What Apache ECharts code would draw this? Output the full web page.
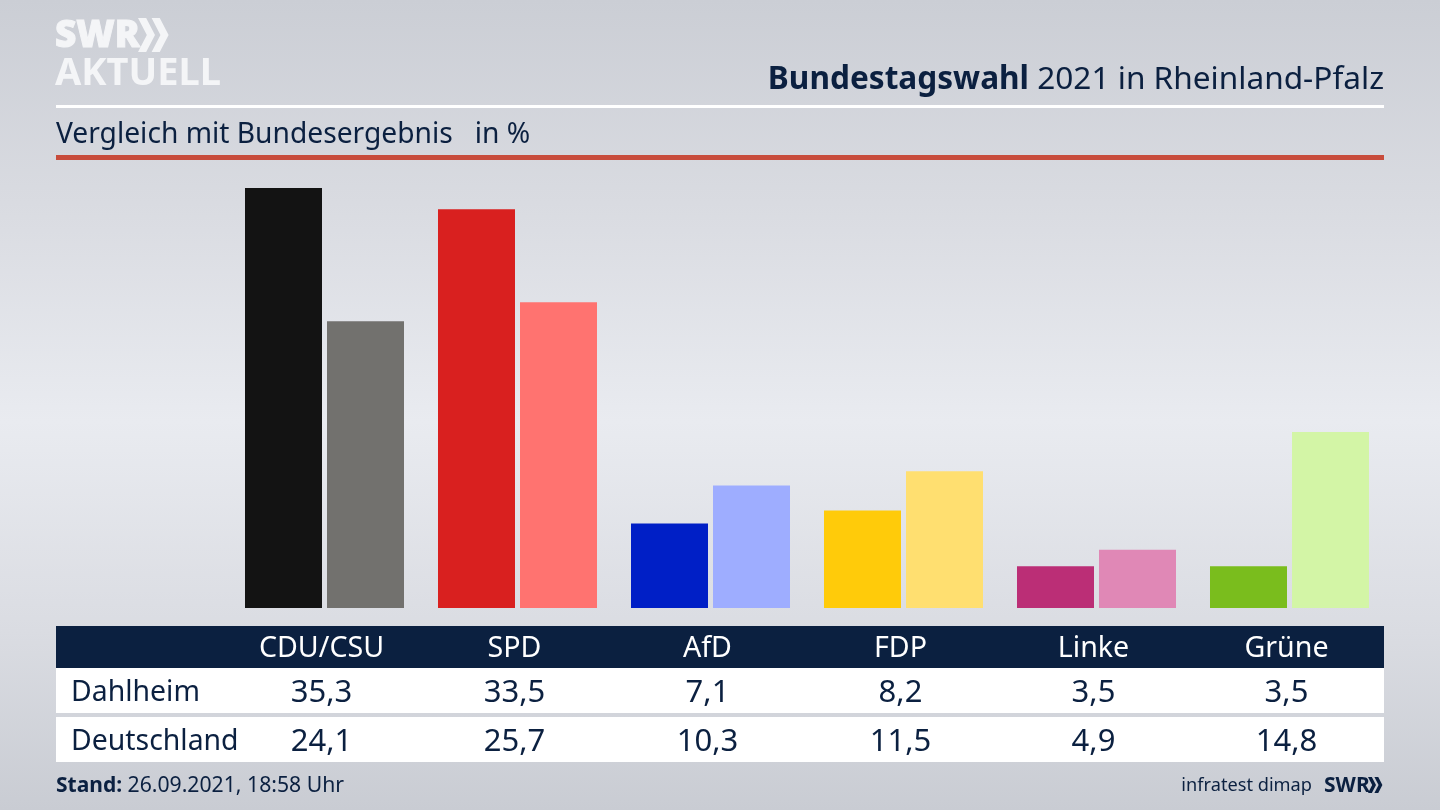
<!DOCTYPE html>
<html><head><meta charset="utf-8">
<style>html,body{margin:0;padding:0;background:#d5d8de}#c{width:1440px;height:810px}</style>
<script src="https://cdn.jsdelivr.net/npm/echarts@6/dist/echarts.min.js"></script>
</head><body><div id="c"></div>
<script>
const parties = ['CDU/CSU','SPD','AfD','FDP','Linke','Grüne'];
const dahlheim = [35.3,33.5,7.1,8.2,3.5,3.5];
const deutschland = [24.1,25.7,10.3,11.5,4.9,14.8];
const dahlheimColors = ['#131313','#d9201f','#001fc6','#ffcb0a','#bb2e76','#7abd1d'];
const deutschlandColors = ['#72716e','#ff7370','#9eadff','#ffdf70','#e088b6','#d3f5a6'];
const rowNames = ['Dahlheim','Deutschland'];
const titleBold = 'Bundestagswahl';
const titleRest = ' 2021 in Rheinland-Pfalz';
const subtitle = 'Vergleich mit Bundesergebnis   in %';
const standLabel = 'Stand:';
const standText = ' 26.09.2021, 18:58 Uhr';
const source = 'infratest dimap';

const NAVY = '#0b2040';
const FONT = '"Noto Sans","Open Sans",sans-serif';
const fmt = v => v.toFixed(1).replace('.', ',');

const tableAxis = (data, margin, color, size) => ({
  type: 'category', data, position: 'bottom', gridIndex: 0,
  axisLine: {show:false}, axisTick: {show:false}, splitLine: {show:false},
  axisLabel: {interval:0, margin, color, fontFamily:FONT, fontSize:size, verticalAlign:'middle', hideOverlap:false, padding:[0,6,0,0]}
});
const rect = (x,y,w,h,fill) => ({type:'rect', z:-5, silent:true, shape:{x,y,width:w,height:h}, style:{fill}});
const text = (x,y,t,o) => ({type:'text', z:5, silent:true, x, y, style:Object.assign({text:t, fill:NAVY, font:'28.4px '+FONT, textVerticalAlign:'middle'}, o||{})});
const chevrons = (x,y,h,fill) => [0,1].map(i => {
  const x0 = x + i*h*0.4, w = h*0.5, t = h*0.24;
  return {type:'polygon', z:5, silent:true,
    shape:{points:[[x0,y],[x0+t,y],[x0+w,y+h/2],[x0+t,y+h],[x0,y+h],[x0+w-t,y+h/2]]},
    style:{fill}};
});

const chart = echarts.init(document.getElementById('c'), null, {renderer:'canvas', width:1440, height:810});
chart.setOption({
  animation:false,
  backgroundColor:{type:'linear',x:0,y:0,x2:0,y2:1,colorStops:[
    {offset:0,color:'#cbced5'},{offset:0.25,color:'#d9dbe1'},{offset:0.52,color:'#e9ebf0'},
    {offset:0.78,color:'#dadce2'},{offset:1,color:'#c9ccd3'}]},
  title:[
    {text:'{b|'+titleBold+'}{r|'+titleRest+'}', right:56, top:64, padding:0,
     textStyle:{rich:{b:{fontFamily:FONT,fontSize:31.6,fontWeight:'bold',color:NAVY},r:{fontFamily:FONT,fontSize:31.6,fontWeight:'normal',color:NAVY}}}},
    {text:subtitle, left:56, top:121, padding:0, textStyle:{fontFamily:FONT,fontSize:28.2,fontWeight:'normal',color:NAVY}}
  ],
  grid:{left:228,width:1158,top:132,height:476,containLabel:false},
  xAxis:[
    tableAxis(parties,41,'#ffffff',28.6),
    tableAxis(dahlheim.map(fmt),85,NAVY,31),
    tableAxis(deutschland.map(fmt),134,NAVY,31)
  ],
  yAxis:{type:'value',min:0,max:40,show:false},
  series:[
    {name:rowNames[0],type:'bar',xAxisIndex:0,barWidth:77,barGap:'6.5%',
     data:dahlheim.map((v,i)=>({value:v,itemStyle:{color:dahlheimColors[i]}}))},
    {name:rowNames[1],type:'bar',xAxisIndex:0,barWidth:77,barGap:'6.5%',
     data:deutschland.map((v,i)=>({value:v,itemStyle:{color:deutschlandColors[i]}}))}
  ],
  graphic:[
    rect(56,105,1328,3,'#ffffff'),
    rect(56,155,1328,5,'#c84c3c'),
    rect(56,626,1328,42,NAVY),
    rect(56,668,1328,45,'#ffffff'),
    rect(56,717,1328,45,'#ffffff'),
    text(71,693,rowNames[0]),
    text(71,742,rowNames[1]),
    text(56,786,standLabel,{font:'bold 21px '+FONT}),
    text(122,786,standText,{font:'21.2px '+FONT}),
    text(1312,786,source,{font:'18.2px '+FONT,textAlign:'right'}),
    text(1324,786,'SWR',{font:'bold 21px '+FONT}),
    ...chevrons(1368,777,16,NAVY),
    text(55,36,'SWR',{font:'900 37px '+FONT,fill:'#f4f5f7',stroke:'#f4f5f7',lineWidth:1}),
    text(55,74,'AKTUELL',{font:'bold 38px '+FONT,fill:'#f4f5f7'}),
    ...chevrons(138,18,34,'#f4f5f7')
  ]
});
</script></body></html>
